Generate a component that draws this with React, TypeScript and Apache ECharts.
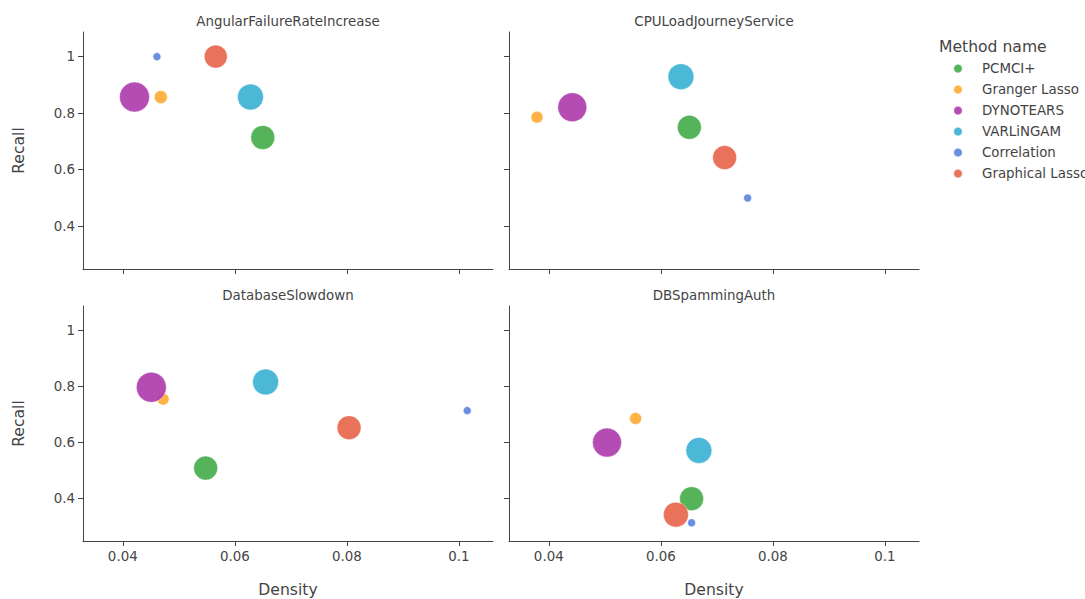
import React, { useEffect, useRef } from "react";
import * as echarts from "echarts";

const methods = ["PCMCI+", "Granger Lasso", "DYNOTEARS", "VARLiNGAM", "Correlation", "Graphical Lasso"];
const methodColors = ["#42ab48", "#ffab33", "#ac38ac", "#38b0d4", "#5a82dd", "#e56348"];
const panels = ["AngularFailureRateIncrease", "CPULoadJourneyService", "DatabaseSlowdown", "DBSpammingAuth"];

// values in method order, one array per panel
const densityAngular = [0.065, 0.0468, 0.0421, 0.0628, 0.0461, 0.0566];
const recallAngular = [0.714, 0.857, 0.857, 0.857, 1.0, 1.0];
const sizeAngular = [24, 13, 30, 26, 8, 23];

const densityCPU = [0.0651, 0.0379, 0.0442, 0.0636, 0.0755, 0.0714];
const recallCPU = [0.75, 0.786, 0.821, 0.929, 0.5, 0.643];
const sizeCPU = [24, 12, 29, 26, 8, 24];

const densityDB = [0.0548, 0.0472, 0.0451, 0.0655, 0.1015, 0.0804];
const recallDB = [0.509, 0.755, 0.797, 0.816, 0.714, 0.653];
const sizeDB = [24, 12, 30, 26, 8, 24];

const densitySpam = [0.0655, 0.0555, 0.0504, 0.0668, 0.0655, 0.0627];
const recallSpam = [0.4, 0.686, 0.6, 0.572, 0.314, 0.343];
const sizeSpam = [24, 12, 29, 26, 8, 25];

const xTicks = [0.04, 0.06, 0.08, 0.1];
const yTicks = [0.4, 0.6, 0.8, 1];

const panelData = [
  { d: densityAngular, r: recallAngular, s: sizeAngular },
  { d: densityCPU, r: recallCPU, s: sizeCPU },
  { d: densityDB, r: recallDB, s: sizeDB },
  { d: densitySpam, r: recallSpam, s: sizeSpam },
];

const FONT = "'DejaVu Sans', Verdana, sans-serif";
const TXT = "#444";
const SMALL = 13.4;
const BIG = 15.6;

export default function App() {
  const ref = useRef<HTMLDivElement>(null);
  useEffect(() => {
    document.body.style.margin = "0";
    const chart = echarts.init(ref.current!, null, { renderer: "svg" });
    const grids = [
      { left: 83, top: 32, width: 410, height: 237 },
      { left: 509, top: 32, width: 410, height: 237 },
      { left: 83, top: 306, width: 410, height: 238 },
      { left: 509, top: 306, width: 410, height: 238 },
    ];
    const axisLine = { show: true, lineStyle: { color: "#444", width: 1 } };
    const xAxis = grids.map((_, i) => ({
      type: "value",
      gridIndex: i,
      min: 0.0329,
      max: 0.1061,
      splitLine: { show: false },
      axisLine: { ...axisLine, onZero: false },
      axisTick: { show: true, length: 5, lineStyle: { color: "#444" }, customValues: xTicks },
      axisLabel: {
        show: i >= 2,
        customValues: xTicks,
        color: TXT,
        fontFamily: FONT,
        fontSize: SMALL,
        margin: 9,
      },
      name: i >= 2 ? "Density" : "",
      nameLocation: "middle",
      nameGap: 41,
      nameTextStyle: { color: TXT, fontFamily: FONT, fontSize: BIG },
    }));
    const yAxis = grids.map((_, i) => ({
      type: "value",
      gridIndex: i,
      min: 0.249,
      max: 1.087,
      splitLine: { show: false },
      axisLine: { ...axisLine, onZero: false },
      axisTick: { show: true, length: 5, lineStyle: { color: "#444" }, customValues: yTicks },
      axisLabel: {
        show: i % 2 === 0,
        customValues: yTicks,
        color: TXT,
        fontFamily: FONT,
        fontSize: SMALL,
        margin: 8,
      },
      name: i % 2 === 0 ? "Recall" : "",
      nameLocation: "middle",
      nameGap: 56,
      nameTextStyle: { color: TXT, fontFamily: FONT, fontSize: BIG },
    }));
    const series: any[] = [];
    panelData.forEach((p, gi) => {
      methods.forEach((m, mi) => {
        series.push({
          type: "scatter",
          name: m,
          xAxisIndex: gi,
          yAxisIndex: gi,
          symbol: "circle",
          symbolSize: p.s[mi],
          data: [[p.d[mi], p.r[mi]]],
          itemStyle: { color: methodColors[mi], opacity: 0.9, borderColor: "#fff", borderWidth: 0.5 },
        });
      });
    });
    const titles: any[] = panels.map((t, i) => ({
      text: t,
      left: grids[i].left + grids[i].width / 2,
      top: grids[i].top - 17,
      padding: 0,
      textAlign: "center",
      textStyle: { color: TXT, fontFamily: FONT, fontSize: SMALL, fontWeight: "normal" },
    }));
    titles.push({
      text: "Method name",
      left: 939,
      top: 39,
      padding: 0,
      textAlign: "left",
      textStyle: { color: TXT, fontFamily: FONT, fontSize: BIG, fontWeight: "normal" },
    });
    chart.setOption({
      animation: false,
      backgroundColor: "#fff",
      title: titles,
      legend: {
        orient: "vertical",
        left: 952,
        top: 62,
        padding: 0,
        icon: "circle",
        itemWidth: 10,
        itemHeight: 10,
        itemGap: 8,
        data: methods,
        itemStyle: { opacity: 0.9 },
        textStyle: { color: TXT, fontFamily: FONT, fontSize: SMALL, padding: [0, 0, 0, 14] },
      },
      grid: grids,
      xAxis,
      yAxis,
      series,
    });
    return () => chart.dispose();
  }, []);
  return <div ref={ref} style={{ width: 1085, height: 599 }} />;
}
